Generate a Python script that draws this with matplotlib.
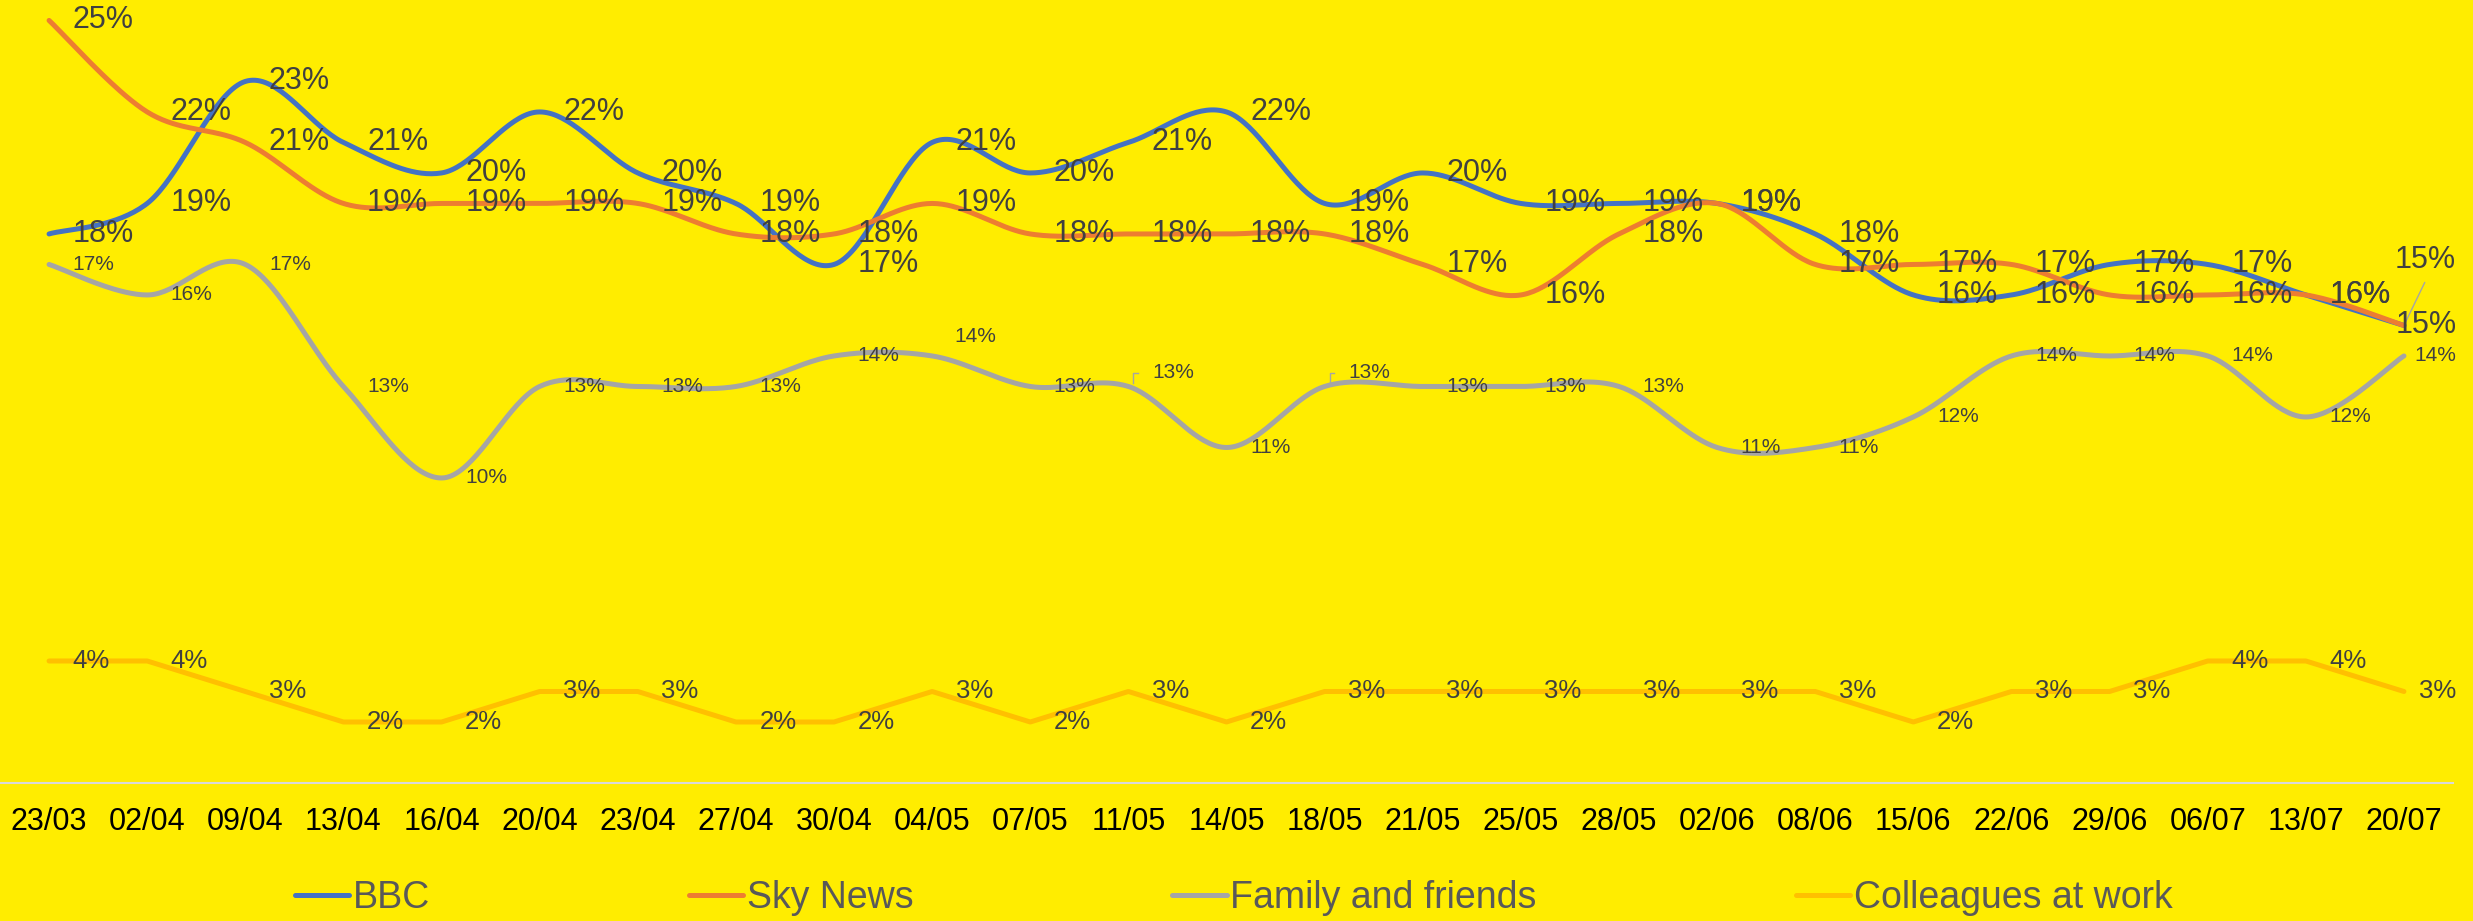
import numpy as np
import matplotlib
matplotlib.use('Agg')
import matplotlib.pyplot as plt

plt.rcParams['font.family'] = ['Liberation Sans', 'DejaVu Sans']

# Data (percent)
dates = ['23/03', '02/04', '09/04', '13/04', '16/04', '20/04', '23/04', '27/04',
         '30/04', '04/05', '07/05', '11/05', '14/05', '18/05', '21/05', '25/05',
         '28/05', '02/06', '08/06', '15/06', '22/06', '29/06', '06/07', '13/07', '20/07']
bbc = [18, 19, 23, 21, 20, 22, 20, 19, 17, 21, 20, 21, 22, 19, 20, 19, 19, 19, 18, 16, 16, 17, 17, 16, 15]
sky = [25, 22, 21, 19, 19, 19, 19, 18, 18, 19, 18, 18, 18, 18, 17, 16, 18, 19, 17, 17, 17, 16, 16, 16, 15]
family = [17, 16, 17, 13, 10, 13, 13, 13, 14, 14, 13, 13, 11, 13, 13, 13, 13, 11, 11, 12, 14, 14, 14, 12, 14]
colleagues = [4, 4, 3, 2, 2, 3, 3, 2, 2, 3, 2, 3, 2, 3, 3, 3, 3, 3, 3, 2, 3, 3, 4, 4, 3]

BG = '#FFED00'
LABEL_COL = '#404040'


# Excel style smoothed line (cardinal bezier through every point)
def smooth(xs, ys, n=40):
    x = np.asarray(xs, float)
    y = np.asarray(ys, float)
    xp = np.concatenate([[x[0]], x, [x[-1]]])
    yp = np.concatenate([[y[0]], y, [y[-1]]])
    t = np.linspace(0, 1, n)[:, None]
    out = []
    for i in range(len(x) - 1):
        p0 = np.array([xp[i + 1], yp[i + 1]])
        p3 = np.array([xp[i + 2], yp[i + 2]])
        p1 = p0 + (p3 - np.array([xp[i], yp[i]])) / 6.0
        p2 = p3 - (np.array([xp[i + 3], yp[i + 3]]) - p0) / 6.0
        seg = ((1 - t) ** 3) * p0 + 3 * ((1 - t) ** 2) * t * p1 + 3 * (1 - t) * t ** 2 * p2 + t ** 3 * p3
        out.append(seg if i == 0 else seg[1:])
    out = np.vstack(out)
    return out[:, 0], out[:, 1]


fig = plt.figure(figsize=(24.73, 9.21), dpi=100, facecolor=BG)
ax = fig.add_axes([0.0, 138 / 921, 2453 / 2473, 1 - 138 / 921])
ax.set_facecolor(BG)

X = np.arange(len(dates))

series = [
    ('BBC', bbc, '#4472C4', True, 22),
    ('Sky News', sky, '#ED7D31', True, 22),
    ('Family and friends', family, '#A5A5A5', True, 15),
    ('Colleagues at work', colleagues, '#FFC000', False, 18.5),
]

handles = []
for name, vals, col, sm, fs in series:
    if sm:
        sx, sy = smooth(X, vals)
    else:
        sx, sy = X, vals
    h, = ax.plot(sx, sy, color=col, linewidth=3.6, solid_capstyle='round',
                 solid_joinstyle='round', label=name)
    handles.append(h)

    for i, v in enumerate(vals):
        dx, dy, ha = 17, 0, 'left'
        if i == len(vals) - 1:
            dx, ha = 38, 'right'
        # labels Excel moved to avoid overlap
        if name == 'BBC' and i == len(vals) - 1:
            dx, dy, ha = -7, 47, 'left'
            ax.annotate('', xy=(i, v), xytext=(15, 31), textcoords='offset points',
                        arrowprops=dict(arrowstyle='-', color='#A5A5A5', lw=1,
                                        shrinkA=0, shrinkB=2))
        if name == 'Family and friends' and i == 9:
            dx, dy = 16, 14
        if name == 'Family and friends' and i in (11, 13):
            dx, dy = 17, 10
            ax.plot([i + 0.05, i + 0.05, i + 0.1], [v + 0.1, v + 0.45, v + 0.45],
                    color='#A5A5A5', lw=1)
        ax.annotate('%d%%' % v, xy=(i, v), xytext=(dx, dy), textcoords='offset points',
                    ha=ha, va='center', fontsize=fs, color=LABEL_COL, zorder=5)

ax.set_xlim(-0.5, len(dates) - 0.5)
ax.set_ylim(0, 25.67)
ax.set_xticks(X)
ax.set_xticklabels(dates, fontsize=22, color='black')
ax.tick_params(axis='x', length=0, pad=17)
ax.set_yticks([])
for s in ['top', 'left', 'right']:
    ax.spines[s].set_visible(False)
ax.spines['bottom'].set_color('#D9D9D9')
ax.spines['bottom'].set_linewidth(1.5)

leg = fig.legend(handles=handles, loc='center', bbox_to_anchor=(0.4988, 0.025),
                 ncol=4, frameon=False, fontsize=27, handlelength=1.45,
                 handletextpad=0.1, columnspacing=6.9, borderaxespad=0,
                 labelcolor='#595959')

fig.savefig('out.png', dpi=100, facecolor=BG)
